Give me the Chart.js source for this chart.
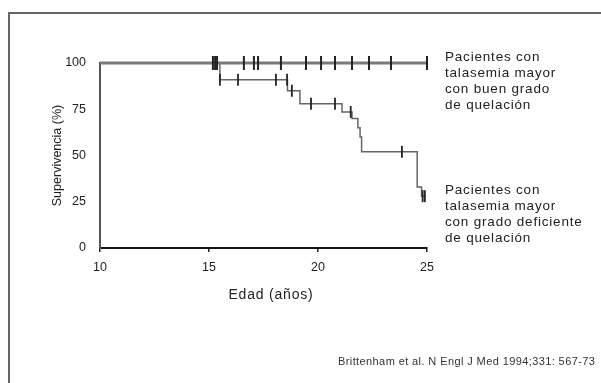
<!DOCTYPE html>
<html>
<head>
<meta charset="utf-8">
<script src="https://cdn.jsdelivr.net/npm/chart.js@4.4.1/dist/chart.umd.min.js"></script>
<style>
  html, body { margin: 0; padding: 0; background: #fff; width: 601px; height: 383px; overflow: hidden; }
  #frame { position: absolute; left: 8px; top: 12px; width: 700px; height: 500px; border-left: 2px solid #666; border-top: 2px solid #666; }
  #wrap { position: absolute; left: 0; top: 0; width: 601px; height: 383px; }
  .note { position: absolute; font-family: "Liberation Sans", Arial, sans-serif; color: #222; font-size: 13.5px; line-height: 16px; letter-spacing: 0.8px; }
  #xt { position: absolute; font-family: "Liberation Sans", Arial, sans-serif; color: #222; font-size: 14px; letter-spacing: 0.8px; left: 221px; width: 100px; text-align: center; top: 286px; }
  #src { position: absolute; font-family: "Liberation Sans", Arial, sans-serif; color: #333; font-size: 11px; left: 338px; top: 355px; letter-spacing: 0.4px; }
</style>
</head>
<body>
<div id="frame"></div>
<div id="wrap"><canvas id="c" width="601" height="383"></canvas></div>
<div class="note" style="left:445px; top:49px;">Pacientes con<br>talasemia mayor<br>con buen grado<br>de quelación</div>
<div class="note" style="left:445px; top:182px;">Pacientes con<br>talasemia mayor<br>con grado deficiente<br>de quelación</div>
<div id="xt">Edad (años)</div>
<div id="src">Brittenham et al. N Engl J Med 1994;331: 567-73</div>
<script>
// Good chelation group: survival curve (age in years, survival %)
const goodAges = [10, 25];
const goodSurv = [100, 100];
const goodCensored = [15.18, 15.28, 15.37, 16.6, 17.06, 17.25, 18.3, 19.45, 20.14, 20.78, 21.56, 22.34, 23.35, 25.0];

// Poor chelation group
const poorAges = [10, 15.5, 18.6, 19.17, 21.1, 21.56, 21.83, 21.93, 22.0, 24.55, 24.75, 24.95];
const poorSurv = [100, 91, 85, 78, 73.5, 70, 65, 60, 52, 33, 28, 28];
const poorCensored = [15.5, 16.33, 18.07, 18.58, 18.8, 19.68, 20.78, 21.5, 23.85, 24.8, 24.9];

// Axis ticks
const xTickValues = [10, 15, 20, 25];
const yTickValues = [0, 25, 50, 75, 100];

function pts(xs, ys) { return xs.map((x, i) => ({ x: x, y: ys[i] })); }
function levelAt(xs, ys, t) {
  let v = ys[0];
  for (let i = 0; i < xs.length; i++) { if (xs[i] <= t) v = ys[i]; }
  return v;
}
function censorPts(times, xs, ys) { return times.map(t => ({ x: t, y: levelAt(xs, ys, t) })); }

const FONT = "'Liberation Sans', Arial, sans-serif";

new Chart(document.getElementById('c'), {
  type: 'line',
  data: {
    datasets: [
      { data: pts(goodAges, goodSurv), stepped: true, borderColor: '#7a7a7a', borderWidth: 3, pointRadius: 0, clip: false, order: 3 },
      { data: pts(poorAges, poorSurv), stepped: true, borderColor: '#666', borderWidth: 1.5, pointRadius: 0, clip: false, order: 3 },
      { type: 'scatter', data: censorPts(goodCensored, goodAges, goodSurv), pointStyle: 'line', rotation: 90, pointRadius: 7, borderColor: '#222', borderWidth: 2, clip: false, order: 1 },
      { type: 'scatter', data: censorPts(poorCensored, poorAges, poorSurv), pointStyle: 'line', rotation: 90, pointRadius: 6, borderColor: '#222', borderWidth: 1.8, clip: false, order: 1 }
    ]
  },
  options: {
    responsive: false,
    animation: false,
    events: [],
    layout: { padding: { left: 50, right: 174, top: 63, bottom: 75 } },
    plugins: { legend: { display: false }, tooltip: { enabled: false } },
    scales: {
      x: {
        type: 'linear', min: 10, max: 25,
        afterBuildTicks: (s) => { s.ticks = xTickValues.map(v => ({ value: v })); },
        afterFit: (s) => { s.height = 60; },
        grid: { display: true, drawOnChartArea: false, drawTicks: true, tickLength: 4, color: '#222', lineWidth: 1.5 },
        border: { display: true, color: '#111', width: 2 },
        ticks: { color: '#222', font: { family: FONT, size: 12.5 }, padding: 8, maxRotation: 0 },
        title: { display: false }
      },
      y: {
        type: 'linear', min: 0, max: 100,
        afterBuildTicks: (s) => { s.ticks = yTickValues.map(v => ({ value: v })); },
        afterFit: (s) => { s.width = 50; },
        grid: { display: false },
        border: { display: true, color: '#555', width: 2 },
        ticks: { color: '#222', font: { family: FONT, size: 12.5 }, padding: 6 },
        title: { display: true, text: 'Supervivencia (%)', color: '#222', font: { family: FONT, size: 12.5 }, padding: 0 }
      }
    }
  }
});
</script>
</body>
</html>
